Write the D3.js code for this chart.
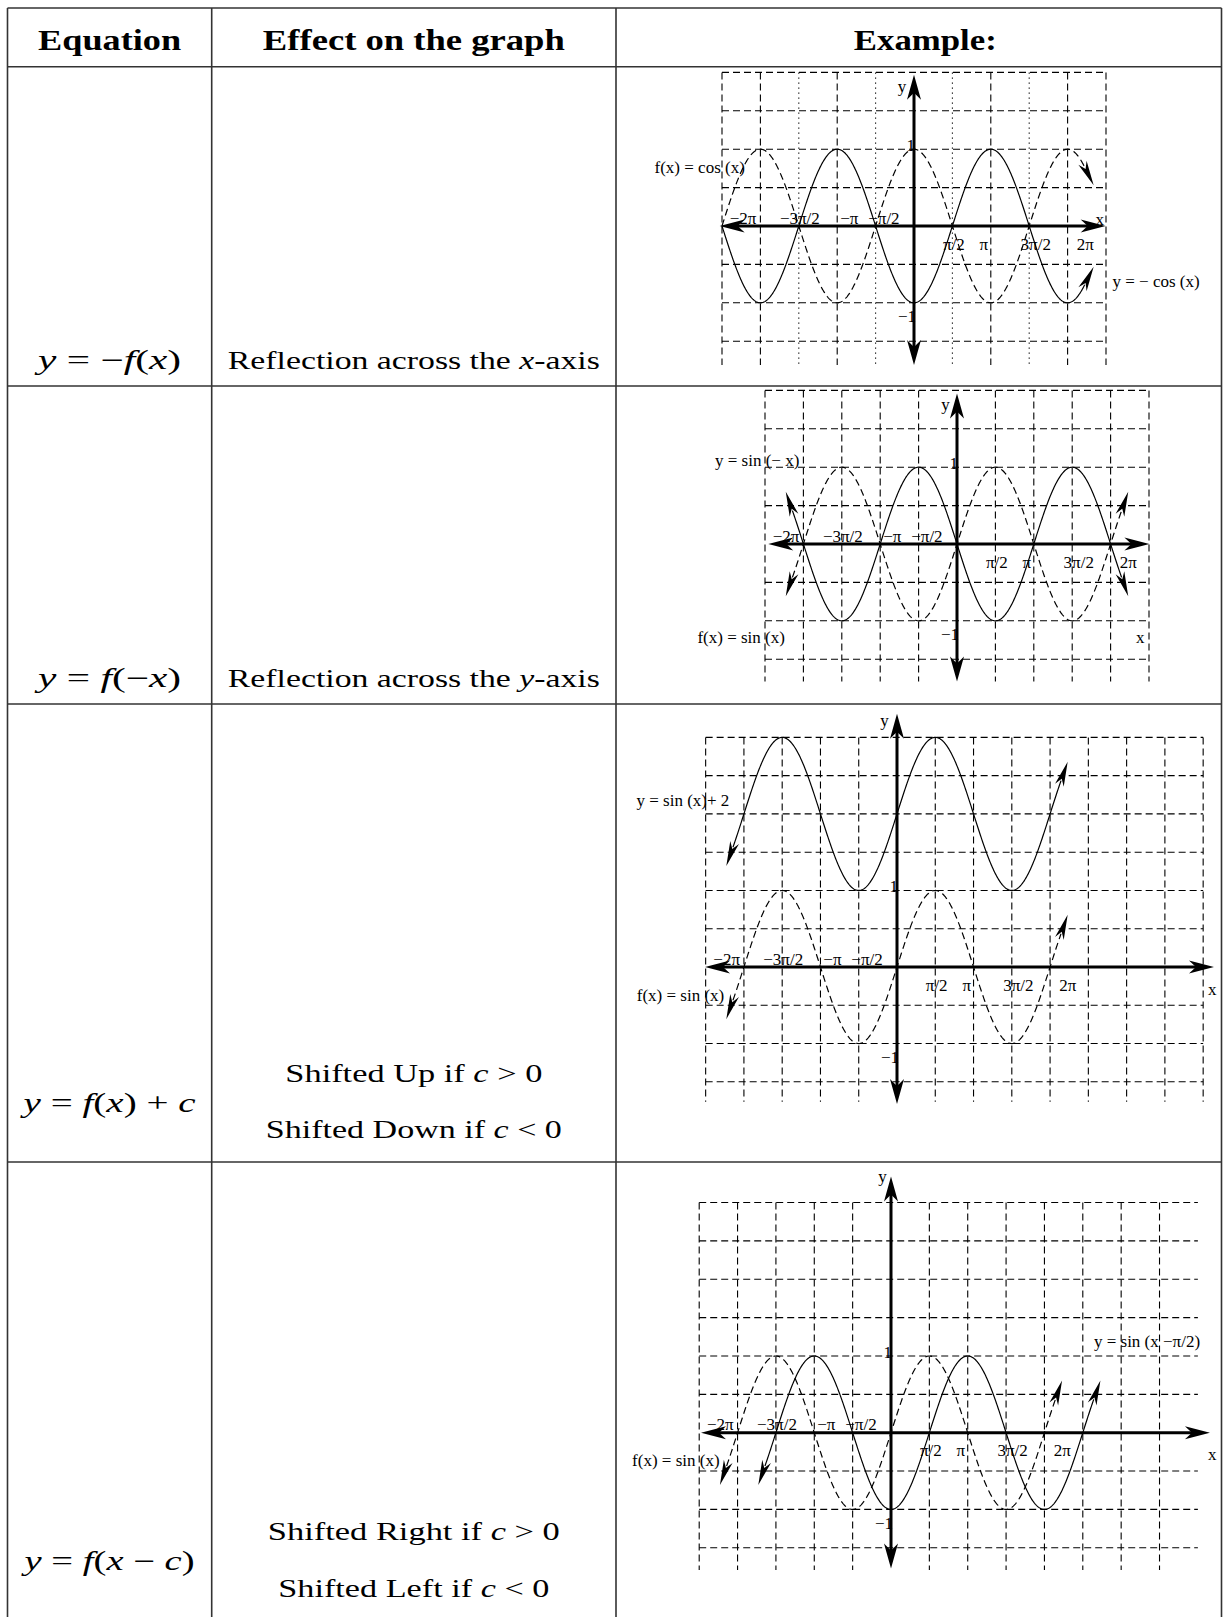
<!DOCTYPE html>
<html>
<head>
<meta charset="utf-8">
<script src="https://cdn.jsdelivr.net/npm/d3@7"></script>
<style>
  body { margin: 0; background: #fff; }
  text { font-family: "Liberation Serif", "Times New Roman", Times, serif; fill: #000; white-space: pre; }
</style>
</head>
<body>
<div id="chart"></div>
<script>
// ---- table content ----
const headers = ["Equation", "Effect on the graph", "Example:"];
// pieces: [text, italic]
const equations = [
  [["y", 1], [" = −", 0], ["f", 1], ["(", 0], ["x", 1], [")", 0]],
  [["y", 1], [" = ", 0], ["f", 1], ["(−", 0], ["x", 1], [")", 0]],
  [["y", 1], [" = ", 0], ["f", 1], ["(", 0], ["x", 1], [") + ", 0], ["c", 1]],
  [["y", 1], [" = ", 0], ["f", 1], ["(", 0], ["x", 1], [" − ", 0], ["c", 1], [")", 0]]
];
const effects = [
  [[["Reflection across the ", 0], ["x", 1], ["-axis", 0]]],
  [[["Reflection across the ", 0], ["y", 1], ["-axis", 0]]],
  [[["Shifted Up if ", 0], ["c", 1], [" > 0", 0]], [["Shifted Down if ", 0], ["c", 1], [" < 0", 0]]],
  [[["Shifted Right if ", 0], ["c", 1], [" > 0", 0]], [["Shifted Left if ", 0], ["c", 1], [" < 0", 0]]]
];

// ---- graph content (x in radians, y in function units) ----
const piLabels = ["−2π", "−3π/2", "−π", "−π/2", "π/2", "π", "3π/2", "2π"];
const piLabelX = [-6.99, -4.67, -2.65, -1.23, 1.63, 2.86, 4.98, 7.01];

const gridXSteps = [[-5, 5], [-5, 5], [-5, 8], [-5, 7]];   // vertical lines, multiples of π/2
const gridHRight = [5, 5, 8, 8];                           // horizontal lines run to this step
const gridYRange = [[-1.5, 2], [-1.5, 2], [-1.5, 3], [-1.5, 3]];
const gridVBottom = [-1.81, -1.79, -1.76, -1.79];
const dottedSteps = [[-3, -1, 1, 3], [], [], []];
const xAxisEnds = [[-7.95, 7.84], [-7.72, 7.87], [-7.88, 13.01], [-7.78, 13.06]];
const yAxisEnds = [[-1.81, 1.97], [-1.79, 1.96], [-1.79, 3.31], [-1.77, 3.34]];
const yNameAt = [[-0.49, 1.74], [-0.47, 1.75], [-0.51, 3.15], [-0.35, 3.27]];
const xNameAt = [[7.6, 0.01], [7.5, -1.29], [12.94, -0.37], [13.15, -0.36]];

const PI = Math.PI;
const curveSets = [
  [
    { fn: x => Math.cos(x), dashed: true, domain: [-5 * PI / 2, 2 * PI + 0.7], arrows: [false, true] },
    { fn: x => -Math.cos(x), dashed: false, domain: [-5 * PI / 2, 2 * PI + 0.7], arrows: [false, true] }
  ],
  [
    { fn: x => Math.sin(x), dashed: true, domain: [-2 * PI - 0.45, 2 * PI + 0.45], arrows: [true, true] },
    { fn: x => Math.sin(-x), dashed: false, domain: [-2 * PI - 0.45, 2 * PI + 0.45], arrows: [true, true] }
  ],
  [
    { fn: x => Math.sin(x), dashed: true, domain: [-2 * PI - 0.45, 2 * PI + 0.45], arrows: [true, true] },
    { fn: x => Math.sin(x) + 2, dashed: false, domain: [-2 * PI - 0.45, 2 * PI + 0.45], arrows: [true, true] }
  ],
  [
    { fn: x => Math.sin(x), dashed: true, domain: [-2 * PI - 0.45, 2 * PI + 0.45], arrows: [true, true] },
    { fn: x => Math.sin(x - PI / 2), dashed: false, domain: [-3 * PI / 2 - 0.45, 5 * PI / 2 + 0.45], arrows: [true, true] }
  ]
];
const curveLabels = [
  [{ text: "f(x) = cos (x)", x: -6.92, y: 0.69, anchor: "end" }, { text: "y = − cos (x)", x: 8.12, y: -0.79, anchor: "start" }],
  [{ text: "y = sin (− x)", x: -6.45, y: 1.02, anchor: "end" }, { text: "f(x) = sin (x)", x: -7.04, y: -1.29, anchor: "end" }],
  [{ text: "y = sin (x)+ 2", x: -6.88, y: 2.11, anchor: "end" }, { text: "f(x) = sin (x)", x: -7.09, y: -0.44, anchor: "end" }],
  [{ text: "f(x) = sin (x)", x: -7.02, y: -0.43, anchor: "end" }, { text: "y = sin (x −π/2)", x: 8.31, y: 1.12, anchor: "start" }]
];

// ---- layout ----
const width = 1223, height = 1617;
const colX = [7.5, 211.7, 616, 1221.5];
const rowY = [8, 66.7, 386, 704, 1162];
const headerBase = 49.5, headerLen = [143, 302, 143];
const eqBase = [369, 687, 1111.5, 1570], eqLen = [143, 143, 172, 170];
const effBase = [[369], [687], [1081.7, 1137.5], [1539.5, 1596.5]];
const effLen = [[372], [372], [257, 296], [292, 271]];
const panels = [
  { ox: 914, oy: 226, cell: 38.4 },
  { ox: 957, oy: 544, cell: 38.4 },
  { ox: 897, oy: 967, cell: 38.27 },
  { ox: 891, oy: 1432.7, cell: 38.36 }
];

const svg = d3.select("#chart").append("svg")
  .attr("width", width).attr("height", height)
  .attr("font-family", "Liberation Serif, Times New Roman, serif")
  .style("background", "#fff");

// table rules
const rules = svg.append("g").attr("stroke", "#333").attr("stroke-width", 1.6);
rowY.forEach(y => rules.append("line").attr("x1", colX[0]).attr("x2", colX[3]).attr("y1", y).attr("y2", y));
colX.forEach(x => rules.append("line").attr("x1", x).attr("x2", x).attr("y1", rowY[0]).attr("y2", height));

function richText(g, pieces, x, y, size, len, bold) {
  const t = g.append("text")
    .attr("x", x).attr("y", y)
    .attr("text-anchor", "middle")
    .attr("font-size", size)
    .attr("font-weight", bold ? "bold" : null)
    .attr("textLength", len)
    .attr("lengthAdjust", "spacingAndGlyphs");
  pieces.forEach(([s, it]) => t.append("tspan").text(s).attr("font-style", it ? "italic" : null));
}

const colMid = i => (colX[i] + colX[i + 1]) / 2;
const tbl = svg.append("g");
headers.forEach((h, i) => richText(tbl, [[h, 0]], i === 2 ? 925.3 : colMid(i), headerBase, 30, headerLen[i], true));
equations.forEach((eq, r) => richText(tbl, eq, colMid(0), eqBase[r], 27, eqLen[r], false));
effects.forEach((lines, r) => lines.forEach((ln, k) =>
  richText(tbl, ln, colMid(1), effBase[r][k], 26, effLen[r][k], false)));

// ---- graphs ----
function arrowHead(g, tip, ang, L, W) {
  g.append("path")
    .attr("d", `M0,0L${-L},${-W}L${-L * 0.72},0L${-L},${W}Z`)
    .attr("transform", `translate(${tip[0]},${tip[1]}) rotate(${ang * 180 / Math.PI})`)
    .attr("fill", "#000");
}

panels.forEach((p, gi) => {
  const x = d3.scaleLinear().domain([0, PI / 2]).range([p.ox, p.ox + p.cell]);
  const y = d3.scaleLinear().domain([0, 0.5]).range([p.oy, p.oy - p.cell]);
  const g = svg.append("g");

  // grid
  const grid = g.append("g").attr("stroke", "#000").attr("stroke-width", 1.1).attr("fill", "none");
  const [s0, s1] = gridXSteps[gi];
  const [ymin, ymax] = gridYRange[gi];
  d3.range(s0, s1 + 1).filter(k => k !== 0).forEach(k => {
    const dotted = dottedSteps[gi].includes(k);
    grid.append("line")
      .attr("x1", x(k * PI / 2)).attr("x2", x(k * PI / 2))
      .attr("y1", y(ymax)).attr("y2", y(gridVBottom[gi]))
      .attr("stroke-dasharray", dotted ? "1.3,3.7" : "7,4");
  });
  d3.range(ymin * 2, ymax * 2 + 1).filter(j => j !== 0).forEach(j => {
    grid.append("line")
      .attr("x1", x(s0 * PI / 2)).attr("x2", x(gridHRight[gi] * PI / 2))
      .attr("y1", y(j / 2)).attr("y2", y(j / 2))
      .attr("stroke-dasharray", "7,4");
  });

  // curves
  const line = d3.line().x(d => x(d[0])).y(d => y(d[1]));
  curveSets[gi].forEach(c => {
    const [a, b] = c.domain;
    const pts = d3.range(a, b, 0.02).concat([b]).map(t => [t, c.fn(t)]);
    g.append("path")
      .attr("d", line(pts))
      .attr("fill", "none").attr("stroke", "#000").attr("stroke-width", 1.2)
      .attr("stroke-dasharray", c.dashed ? "7,4" : null);
    [[a, a + 0.02, 0], [b, b - 0.02, 1]].forEach(([e, q, side]) => {
      if (!c.arrows[side]) return;
      const P = [x(e), y(c.fn(e))], Q = [x(q), y(c.fn(q))];
      const ang = Math.atan2(P[1] - Q[1], P[0] - Q[0]);
      const L = 25;
      const tip = [P[0] + L * 0.8 * Math.cos(ang), P[1] + L * 0.8 * Math.sin(ang)];
      arrowHead(g, tip, ang, L, 4.6);
    });
  });

  // axes
  const ax = g.append("g");
  const [xa, xb] = xAxisEnds[gi];
  const [ya, yb] = yAxisEnds[gi];
  ax.append("line").attr("x1", x(xa) + 10).attr("x2", x(xb) - 10).attr("y1", y(0)).attr("y2", y(0))
    .attr("stroke", "#000").attr("stroke-width", 3);
  ax.append("line").attr("x1", x(0)).attr("x2", x(0)).attr("y1", y(yb) + 10).attr("y2", y(ya) - 10)
    .attr("stroke", "#000").attr("stroke-width", 3);
  arrowHead(ax, [x(xb), y(0)], 0, 25, 6.5);
  arrowHead(ax, [x(xa), y(0)], Math.PI, 25, 6.5);
  arrowHead(ax, [x(0), y(yb)], -Math.PI / 2, 25, 7);
  arrowHead(ax, [x(0), y(ya)], Math.PI / 2, 25, 7);

  // labels
  const lab = g.append("g").attr("font-size", 17);
  piLabels.forEach((t, i) => {
    const v = piLabelX[i];
    lab.append("text").attr("x", x(v)).attr("y", y(v < 0 ? 0.03 : -0.31))
      .attr("text-anchor", "middle").text(t);
  });
  lab.append("text").attr("x", x(0) + 1).attr("y", y(0.98)).attr("text-anchor", "end").text("1");
  lab.append("text").attr("x", x(0) + 2).attr("y", y(-1.25)).attr("text-anchor", "end").text("−1");
  lab.append("text").attr("x", x(yNameAt[gi][0])).attr("y", y(yNameAt[gi][1])).attr("text-anchor", "middle").text("y");
  lab.append("text").attr("x", x(xNameAt[gi][0])).attr("y", y(xNameAt[gi][1])).attr("text-anchor", "middle").text("x");
  curveLabels[gi].forEach(c => {
    lab.append("text").attr("x", x(c.x)).attr("y", y(c.y)).attr("text-anchor", c.anchor).text(c.text);
  });
});
</script>
</body>
</html>
